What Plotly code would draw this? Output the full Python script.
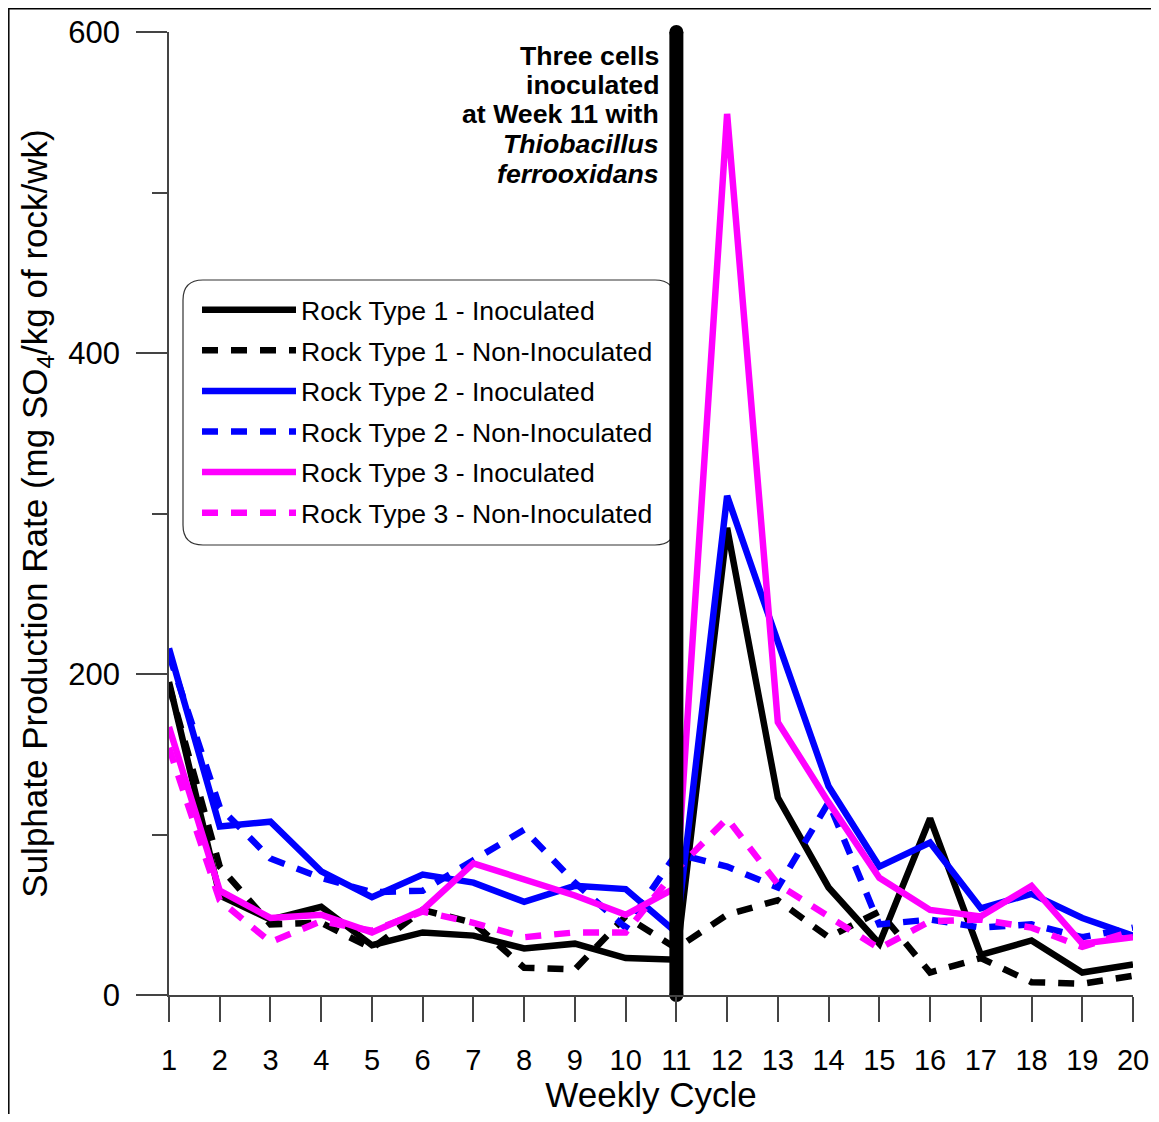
import plotly.graph_objects as go

# ---------------- data ----------------
weeks = list(range(1, 21))

rock1_inoculated = [195, 62, 47, 55, 31, 39, 37, 29, 32, 23, 22, 291, 123, 67, 32, 110, 25, 34, 14, 19]
rock1_non_inoculated = [193, 80, 44, 45, 29, 53, 45, 17, 16, 49, 29, 50, 59, 36, 52, 14, 23, 8, 7, 12]
rock2_inoculated = [216, 105, 108, 77, 61, 75, 70, 58, 68, 66, 39, 311, 220, 130, 80, 95, 54, 63, 48, 37]
rock2_non_inoculated = [212, 117, 85, 73, 64, 65, 84, 103, 70, 42, 88, 80, 67, 120, 44, 47, 42, 44, 36, 42]
rock3_inoculated = [167, 65, 48, 50, 39, 53, 82, 72, 62, 50, 67, 549, 170, 120, 73, 53, 49, 68, 32, 36]
rock3_non_inoculated = [154, 59, 33, 46, 40, 52, 45, 36, 39, 39, 78, 110, 69, 49, 29, 46, 47, 42, 30, 40]

series_names = [
    "Rock Type 1 - Inoculated", "Rock Type 1 - Non-Inoculated",
    "Rock Type 2 - Inoculated", "Rock Type 2 - Non-Inoculated",
    "Rock Type 3 - Inoculated", "Rock Type 3 - Non-Inoculated",
]
series_values = [rock1_inoculated, rock1_non_inoculated, rock2_inoculated,
                 rock2_non_inoculated, rock3_inoculated, rock3_non_inoculated]
series_colors = ["#000000", "#000000", "#0000FF", "#0000FF", "#FF00FF", "#FF00FF"]
series_dashes = ["solid", "16px,13px", "solid", "16px,13px", "solid", "16px,13px"]

inoculation_week = 11
y_range = [0, 600]
y_major_ticks = [0, 200, 400, 600]
annotation_lines = ["<b>Three cells</b>", "<b>inoculated</b>", "<b>at Week 11 with</b>",
                    "<b><i>Thiobacillus</i></b>", "<b><i>ferrooxidans</i></b>"]

# ---------------- layout geometry ----------------
# The page body has an 8px margin, so the figure is shrunk and shifted by 8px.
OFF = 8
W, H = 1159 - OFF, 1122 - 2 * OFF
PL, PR, PT, PB = 169, 1133, 32, 995          # plot area in reference pixels
L, R, T, B = PL - OFF, W - (PR - OFF), PT - OFF, H - (PB - OFF)
PW, PH = PR - PL, PB - PT


def px_x(px):
    return (px - PL) / PW


def px_y(py):
    return (PB - py) / PH


fig = go.Figure()

for name, vals, col, dash in zip(series_names, series_values, series_colors, series_dashes):
    fig.add_trace(go.Scatter(
        x=weeks, y=vals, name=name, mode="lines",
        line=dict(color=col, width=6.5, dash=dash),
        legendgroup=name,
    ))

# thick vertical inoculation marker
fig.add_trace(go.Scatter(
    x=[inoculation_week, inoculation_week], y=y_range, mode="lines+markers",
    line=dict(color="black", width=14),
    marker=dict(color="black", size=14, symbol="circle"),
    showlegend=False, cliponaxis=False, hoverinfo="skip",
))

font_family = "Liberation Sans, Arial, sans-serif"

fig.update_layout(
    width=W, height=H,
    margin=dict(l=L, r=R, t=T, b=B, autoexpand=False),
    paper_bgcolor="white", plot_bgcolor="white",
    font=dict(family=font_family, color="black"),
    showlegend=True,
    legend=dict(
        x=px_x(197), y=px_y(286), xanchor="left", yanchor="top",
        bgcolor="rgba(0,0,0,0)", borderwidth=0,
        font=dict(size=26.6, family=font_family, color="black"),
        tracegroupgap=3, itemwidth=94,
    ),
    xaxis=dict(
        range=[1, 20], tickmode="array", tickvals=weeks,
        showline=True, linecolor="#444", linewidth=1.5,
        ticks="outside", ticklen=25, tickwidth=1.5, tickcolor="#444",
        tickfont=dict(size=29, family=font_family),
        ticklabelstandoff=13,
        showgrid=False, zeroline=False,
        title=dict(text="Weekly Cycle", font=dict(size=35, family=font_family), standoff=9),
    ),
    yaxis=dict(
        range=y_range, tickmode="array", tickvals=y_major_ticks,
        showline=True, linecolor="#444", linewidth=1.5,
        ticks="outside", ticklen=31, tickwidth=1.5, tickcolor="#444",
        minor=dict(dtick=100, tick0=0, ticks="outside", ticklen=15, tickwidth=1.5, tickcolor="#444"),
        tickfont=dict(size=31, family=font_family),
        ticklabelstandoff=10,
        showgrid=False, zeroline=False,
        title=dict(text="Sulphate Production Rate (mg SO<sub>4</sub>/kg of rock/wk)",
                   font=dict(size=35, family=font_family), standoff=10),
    ),
)

# rounded legend box
x0, x1 = px_x(183), px_x(675)
y0, y1 = px_y(545), px_y(280)
rx, ry = 20 / PW, 20 / PH
path = (f"M {x0+rx},{y1} L {x1-rx},{y1} Q {x1},{y1} {x1},{y1-ry} "
        f"L {x1},{y0+ry} Q {x1},{y0} {x1-rx},{y0} L {x0+rx},{y0} "
        f"Q {x0},{y0} {x0},{y0+ry} L {x0},{y1-ry} Q {x0},{y1} {x0+rx},{y1} Z")
fig.add_shape(type="path", path=path, xref="paper", yref="paper",
              line=dict(color="#333", width=1.2), layer="below")

# figure border
fig.add_shape(type="rect", xref="paper", yref="paper",
              x0=px_x(8.8), x1=px_x(1156.5), y0=px_y(1140), y1=px_y(8.8),
              line=dict(color="black", width=1.5), layer="above")

# annotation text near inoculation line
line_centers = [56, 85, 114, 144, 174]
for txt, cy in zip(annotation_lines, line_centers):
    fig.add_annotation(text=txt, xref="paper", yref="paper",
                       x=px_x(661), y=px_y(cy), xanchor="right", yanchor="middle",
                       showarrow=False, font=dict(size=26.7, family=font_family, color="black"))

fig.write_html("out.html")
